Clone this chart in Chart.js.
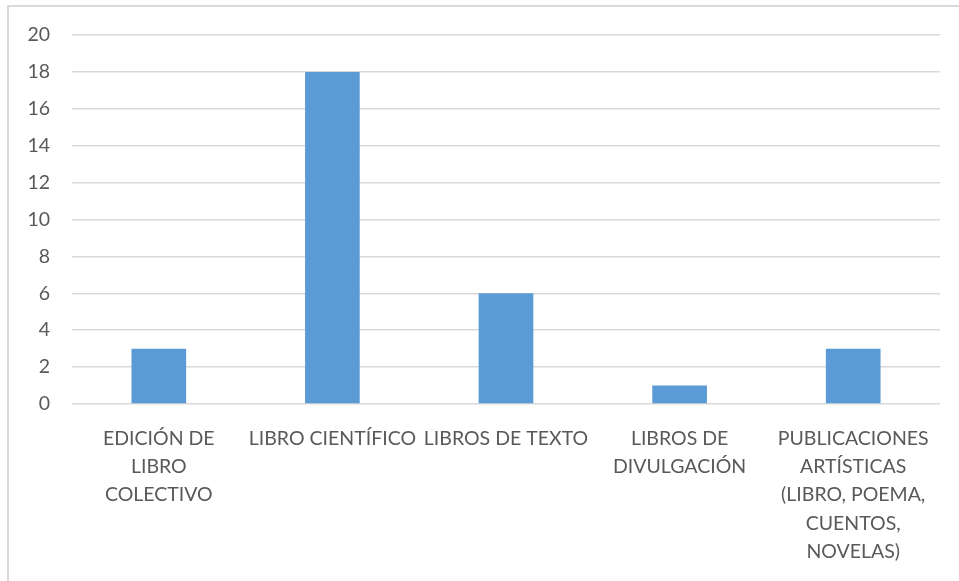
<!DOCTYPE html>
<html>
<head>
<meta charset="utf-8">
<script src="https://cdn.jsdelivr.net/npm/chart.js@4/dist/chart.umd.min.js"></script>
<style>
    html, body { margin: 0; padding: 0; background: #fff; }
    .frame {
        position: absolute; left: 7px; top: 5px; width: 952px; height: 576px;
        border-top: 2px solid #d9d9d9; border-left: 2px solid #d9d9d9;
        box-sizing: border-box;
    }
    .wrap { position: absolute; left: 0; top: 0; width: 959px; height: 581px; }
</style>
</head>
<body>
<div class="frame"></div>
<div class="wrap"><canvas id="bookChart" width="959" height="581"></canvas></div>
<script>
const categories = [
    ['EDICIÓN DE', 'LIBRO', 'COLECTIVO'],
    'LIBRO CIENTÍFICO',
    'LIBROS DE TEXTO',
    ['LIBROS DE', 'DIVULGACIÓN'],
    ['PUBLICACIONES', 'ARTÍSTICAS', '(LIBRO, POEMA,', 'CUENTOS,', 'NOVELAS)']
];
const counts = [3, 18, 6, 1, 3];
const yTicks = [0, 2, 4, 6, 8, 10, 12, 14, 16, 18, 20];

document.addEventListener('DOMContentLoaded', () => {
    const ctx = document.getElementById('bookChart').getContext('2d');
    const xFont = { family: 'Lato, "Open Sans", sans-serif', size: 19.5, lineHeight: 1.46 };
    const yFont = { family: 'Lato, "Open Sans", sans-serif', size: 19.5 };

    new Chart(ctx, {
        type: 'bar',
        data: {
            labels: categories,
            datasets: [{
                data: counts,
                backgroundColor: '#5b9bd5',
                borderWidth: 0,
                categoryPercentage: 1,
                barPercentage: 0.315
            }]
        },
        options: {
            responsive: false,
            animation: false,
            layout: { padding: { top: 35, right: 19, bottom: 0, left: 0 } },
            plugins: { legend: { display: false }, tooltip: { enabled: false } },
            scales: {
                x: {
                    grid: { display: false },
                    border: { display: false },
                    ticks: {
                        color: '#595959', font: xFont,
                        maxRotation: 0, minRotation: 0, autoSkip: false,
                        padding: 12
                    },
                    afterFit: (scale) => { scale.height = 177; }
                },
                y: {
                    min: 0, max: 20,
                    afterBuildTicks: (scale) => { scale.ticks = yTicks.map(v => ({ value: v })); },
                    grid: { color: '#d9d9d9', lineWidth: 1.5, drawTicks: false },
                    border: { display: false },
                    ticks: { color: '#595959', font: yFont, padding: 22 },
                    afterFit: (scale) => { scale.width = 72; }
                }
            }
        }
    });
});
</script>
</body>
</html>
